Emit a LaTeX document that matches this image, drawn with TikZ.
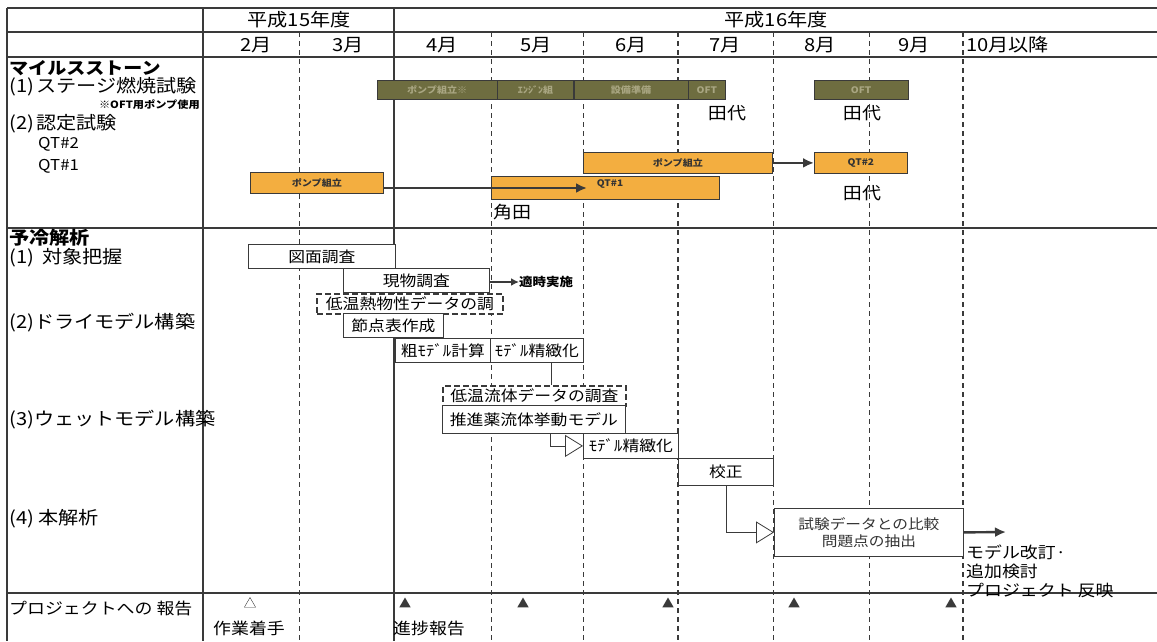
\documentclass[tikz,border=0pt]{standalone}
\usepackage{fontspec}
\setmainfont{Noto Sans CJK JP}[FakeStretch=1.12]
\usetikzlibrary{arrows.meta,positioning,shapes.geometric}
\definecolor{gridgray}{HTML}{3A3A3A}
\definecolor{barolive}{HTML}{6E6D40}
\definecolor{olivetext}{HTML}{A9A682}
\definecolor{barorange}{HTML}{F3AE40}
\definecolor{inkgray}{HTML}{333333}
\begin{document}
\begin{tikzpicture}[x=1pt,y=-1pt,
 frame/.style={gridgray,line width=1.8pt},
 sep/.style={gridgray,line width=1.3pt},
 mline/.style={gridgray,line width=1pt,dash pattern=on 5pt off 4pt},
 mlineb/.style={gridgray,line width=2.2pt,dash pattern=on 5pt off 4pt},
 hdr/.style={inner sep=0pt,font=\fontsize{18}{20}\selectfont},
 lbl/.style={anchor=west,inner sep=0pt,font=\fontsize{18}{20}\selectfont},
 olv/.style={draw=gridgray,fill=barolive,text=olivetext,inner sep=0pt,minimum height=19pt,font=\fontsize{9}{10}\selectfont\bfseries},
 org/.style={draw=gridgray,thick,fill=barorange,text=inkgray,anchor=north west,inner sep=0pt,minimum height=21pt,font=\fontsize{9}{10}\selectfont\bfseries},
 task/.style={draw=gridgray,thick,fill=white,anchor=north west,inner sep=0pt,minimum height=24pt,font=\fontsize{15}{17}\selectfont},
 dtask/.style={task,line width=1.8pt,dash pattern=on 6pt off 3pt},
 who/.style={inner sep=0pt,font=\fontsize{17}{19}\selectfont},
 arr/.style={-{Latex[length=11pt,width=10pt]},line width=2.4pt,gridgray},
 sarr/.style={-{Latex[length=8pt,width=8pt]},line width=1.6pt,gridgray},
 opn/.style={-{Triangle[open,length=18pt,width=22pt]},thick,gridgray},
 tri/.style={regular polygon,regular polygon sides=3,fill=gridgray,inner sep=0pt,minimum size=13pt},
 otri/.style={tri,fill=none,draw=gridgray,thin}
]
\useasboundingbox (0,0) rectangle (1157,641);
\draw[frame] (7,8) -- (1157,8) (7,32) -- (1157,32) (7,57) -- (1157,57);
\draw[frame] (7,8) -- (7,641) (203,8) -- (203,641) (394,8) -- (394,57);
\draw[sep] (394,57) -- (394,641);
\draw[sep] (7,228) -- (1157,228) (7,593) -- (1157,593);
\foreach \x in {299,491,583,773,869} \draw[mline] (\x,32) -- (\x,641);
\foreach \x in {678,963} \draw[mlineb] (\x,32) -- (\x,641);

\node[hdr] (h15) at (299,20) {平成15年度};
\node[hdr] (h16) at (776,20) {平成16年度};
\foreach \m/\x in {2/256,3/348,4/442,5/536,6/631,7/725,8/820,9/914} \node[hdr] (m\m) at (\x,45) {\m 月};
\node[hdr,anchor=west] (m10) at (966,45) {10月以降};

\node[lbl,font=\fontsize{17}{19}\selectfont\bfseries] (ms) at (9,68) {マイルスストーン};
\node[lbl] (st1) at (9,87) {(1)\kern2pt ステージ燃焼試験};
\node[anchor=east,inner sep=0pt,font=\fontsize{10}{11}\selectfont\bfseries] (oftn) at (200,105) {※OFT用ポンプ使用};
\node[lbl] (st2) at (9,124) {(2)\kern2pt 認定試験};
\node[lbl,font=\fontsize{15}{17}\selectfont] (q2l) at (38,144) {QT\#2};
\node[lbl,font=\fontsize{15}{17}\selectfont] (q1l) at (38,166) {QT\#1};
\node[lbl,font=\fontsize{18}{20}\selectfont\bfseries] (yr) at (9,238) {予冷解析};
\node[lbl] (a1) at (9,258) {(1)\kern8pt 対象把握};
\node[lbl] (a2) at (9,323) {(2)ドライモデル構築};
\node[lbl] (a3) at (9,420) {(3)ウェットモデル構築};
\node[lbl] (a4) at (9,519) {(4)\kern4pt 本解析};
\node[lbl,font=\fontsize{16}{18}\selectfont] (rp) at (9,608) {プロジェクトへの 報告};

\node[olv,anchor=north west,minimum width=120pt] (o1) at (377,80) {ポンプ組立※};
\node[olv,minimum width=76pt,right=0pt of o1] (o2) {ｴﾝｼﾞﾝ組};
\node[olv,minimum width=114pt,right=0pt of o2] (o3) {設備準備};
\node[olv,minimum width=37pt,right=0pt of o3] (o4) {OFT};
\node[olv,anchor=north west,minimum width=94pt] (o5) at (814,80) {OFT};
\node[who] (w1) at (727,113) {田代};
\node[who] (w2) at (862,113) {田代};

\node[org,minimum width=189pt] (p2) at (583,152) {ポンプ組立};
\node[org,minimum width=93pt] (q2) at (814,152) {QT\#2};
\node[who] (w3) at (862,193) {田代};
\node[org,minimum width=228pt,minimum height=23pt] (q1) at (491,176) {};
\node[org,minimum width=133pt] (p1) at (250,172) {ポンプ組立};
\node[inner sep=0pt,text=inkgray,font=\fontsize{9}{10}\selectfont\bfseries] (q1t) at (610,184) {QT\#1};
\coordinate (q1in) at (587,188);
\draw[arr] (p2) -- (q2);
\draw[arr] (p1.east |- q1in) -- (q1in);
\node[who,anchor=west] (w4) at (493,212) {角田};

\node[task,minimum width=147pt] (zm) at (248,244) {図面調査};
\node[task,minimum width=146pt] (gb) at (343,268) {現物調査};
\node[inner sep=0pt,anchor=west,font=\fontsize{12}{13}\selectfont\bfseries] (tj) at (519,282) {適時実施};
\draw[sarr] (gb.east |- tj) -- (tj.west);
\node[dtask,minimum width=186pt,minimum height=20pt] (nb) at (316,293) {低温熱物性データの調};
\node[task,minimum width=100pt] (sp) at (343,313) {節点表作成};
\node[task,minimum width=95pt] (ar) at (395,338) {粗ﾓﾃﾞﾙ計算};
\node[task,minimum width=93pt] (sm1) at (490,338) {ﾓﾃﾞﾙ精緻化};
\node[dtask,minimum width=183pt,minimum height=20pt] (rb) at (442,385) {低温流体データの調査};
\node[task,minimum width=183pt,minimum height=28pt] (sy) at (442,405) {推進薬流体挙動モデル};
\node[task,minimum width=95pt,minimum height=25pt] (sm2) at (583,433) {ﾓﾃﾞﾙ精緻化};
\node[task,minimum width=95pt,minimum height=27pt] (ks) at (678,458) {校正};
\node[task,minimum width=189pt,minimum height=48pt,align=center,text=inkgray,font=\fontsize{14}{17}\selectfont] (hk) at (774,508) {試験データとの比較\\問題点の抽出};
\node[inner sep=0pt,anchor=north west,align=left,font=\fontsize{16}{19}\selectfont] (kt) at (966,545) {モデル改訂·\\追加検討\\プロジェクト 反映};
\coordinate (ktip) at (1006,532);
\draw[gridgray,thick] ([xshift=14pt]sm1.south) -- ([xshift=14pt]sm1.south |- rb.north);
\draw[opn] ([xshift=16pt]sy.south) |- (sm2.west);
\draw[opn] (ks.south) |- (hk.west);
\draw[arr] (hk.east) -- (ktip);

\node[otri] (r0) at (250,604) {};
\node[hdr,font=\fontsize{16}{18}\selectfont] (r0t) at (249,628) {作業着手};
\foreach \n/\x in {1/405,2/523,3/668,4/794,5/951} \node[tri] (r\n) at (\x,604) {};
\node[hdr,anchor=west,font=\fontsize{16}{18}\selectfont] (r1t) at (393,628) {進捗報告};
\end{tikzpicture}
\end{document}
